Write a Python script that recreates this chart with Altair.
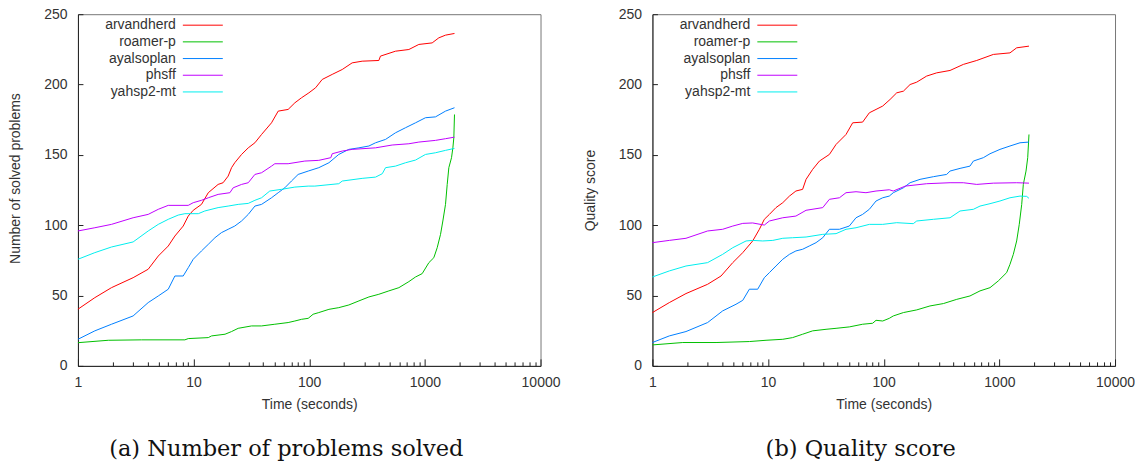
import altair as alt
import pandas as pd

SERIES = ["arvandherd", "roamer-p", "ayalsoplan", "phsff", "yahsp2-mt"]
COLORS = ["#ff0000", "#00c000", "#0080ff", "#c000ff", "#00eeee"]

X_TICKS = [1, 2, 3, 4, 5, 6, 7, 8, 9,
           10, 20, 30, 40, 50, 60, 70, 80, 90,
           100, 200, 300, 400, 500, 600, 700, 800, 900,
           1000, 2000, 3000, 4000, 5000, 6000, 7000, 8000, 9000, 10000]
Y_TICKS = [0, 50, 100, 150, 200, 250]

X_TITLE = "Time (seconds)"
Y_TITLES = ["Number of solved problems", "Quality score"]
CAPTIONS = ["(a) Number of problems solved", "(b) Quality score"]

solved_arvandherd = [(1, 40.3), (1.4, 48.5), (1.95, 55.6), (3.0, 62.7), (4.05, 68.7), (4.95, 78.1), (6.04, 85.2),
                     (6.89, 92.3), (8.13, 99.4), (8.99, 106.5), (9.93, 110.6), (11.7, 114.8), (13.4, 123.1),
                     (16.3, 129.0), (18.0, 130.2), (19.9, 134.9), (21.3, 140.9), (22.7, 144.4), (26.0, 150.3),
                     (29.7, 155.0), (33.9, 158.6), (38.7, 164.5), (47.2, 172.8), (53.9, 181.1), (65.7, 182.3),
                     (75.1, 187.0), (85.8, 190.6), (99.3, 194.1), (113.5, 197.7), (129.5, 203.6), (158, 207.2),
                     (193, 210.7), (235, 215.4), (287, 216.6), (400, 217.1), (413, 220.2), (557, 223.7),
                     (727, 224.9), (887, 228.5), (1156, 229.6), (1320, 233.2), (1508, 235.1), (1803, 236.3)]
solved_roamer_p = [(1, 16.5), (1.83, 18.2), (3.55, 18.5), (8.41, 18.5), (8.99, 19.4), (13.4, 20.1), (14.3, 21.3),
                   (18.7, 22.5), (21.3, 24.4), (24.3, 26.7), (31.7, 28.4), (38.7, 28.4), (50.4, 29.6), (65.7, 30.8),
                   (75.1, 31.9), (85.8, 33.1), (98, 33.8), (108, 36.7), (121, 37.9), (148, 40.2), (180, 41.4),
                   (220, 43.3), (269, 46.2), (328, 49.0), (400, 50.9), (488, 53.3), (596, 55.6), (727, 59.9),
                   (830, 63.2), (948, 65.6), (1083, 73.4), (1195, 76.9), (1278, 84.0), (1366, 93.5), (1430, 103.0),
                   (1508, 114.8), (1560, 129.0), (1611, 140.9), (1700, 148.0), (1746, 155.0), (1780, 162.2),
                   (1803, 178.7)]
solved_ayalsoplan = [(1, 18.9), (1.4, 24.9), (1.95, 29.6), (3.0, 35.5), (4.05, 45.0), (4.95, 49.7), (6.04, 54.5),
                     (6.89, 63.9), (8.13, 63.9), (8.99, 69.8), (9.93, 75.8), (11.7, 81.7), (13.4, 86.4),
                     (15.3, 91.1), (17.4, 94.7), (19.9, 97.1), (22.7, 99.4), (26.0, 103.0), (29.7, 107.7),
                     (33.9, 113.6), (38.7, 114.8), (47.2, 119.5), (53.9, 123.1), (61.5, 126.6), (70.2, 131.4),
                     (80.2, 136.1), (98, 138.5), (121, 140.9), (148, 144.4), (180, 150.3), (220, 153.9),
                     (269, 155.0), (328, 156.3), (374.5, 158.6), (457, 161.0), (557, 165.7), (680, 169.3),
                     (830, 172.8), (1012, 176.4), (1235, 177.0), (1508, 181.1), (1803, 183.5)]
solved_phsff = [(1, 95.9), (1.4, 98.2), (1.95, 100.6), (3.0, 105.3), (4.05, 107.7), (4.95, 111.3), (6.04, 114.1),
                (8.99, 114.1), (9.93, 116.0), (11.7, 117.7), (13.4, 119.5), (16.3, 121.9), (20.6, 123.1),
                (22.0, 126.6), (26.0, 129.0), (29.7, 130.2), (33.9, 136.1), (38.7, 137.3), (47.2, 142.0),
                (50.4, 143.7), (65.7, 143.7), (91.6, 145.6), (121, 146.1), (153.7, 148.0), (158, 150.8),
                (193, 152.7), (235, 153.9), (374.5, 155.0), (521, 157.0), (727, 157.9), (887, 159.1),
                (1235, 160.3), (1508, 161.5), (1803, 162.6)]
solved_yahsp2_mt = [(1, 75.8), (1.4, 80.5), (1.95, 84.5), (3.0, 88.1), (4.05, 95.9), (4.95, 100.6), (6.04, 104.2),
                    (7.36, 107.2), (8.41, 108.2), (10.99, 108.2), (12.5, 110.1), (16.3, 112.5), (19.9, 113.6),
                    (24.3, 114.8), (29.7, 115.5), (33.9, 117.7), (38.7, 119.5), (45.6, 124.3), (57.6, 125.5),
                    (75.1, 127.1), (98, 127.8), (111.7, 127.8), (180, 129.5), (193, 131.4), (287, 133.3),
                    (374.5, 134.2), (428, 136.6), (457, 140.9), (557, 142.0), (680, 144.4), (830, 146.3),
                    (1012, 150.3), (1235, 151.5), (1508, 153.2), (1803, 154.6)]

quality_arvandherd = [(1, 37.9), (1.4, 45.0), (1.95, 51.4), (3.0, 58.0), (3.92, 63.9), (4.95, 73.4), (6.04, 80.5),
                      (7.36, 88.8), (8.41, 97.1), (9.28, 104.2), (10.27, 107.7), (11.7, 112.5), (13.4, 116.0),
                      (15.3, 120.7), (17.4, 124.3), (19.9, 125.5), (21.3, 132.6), (24.3, 139.7), (27.8, 145.6),
                      (33.9, 150.3), (38.7, 157.4), (47.2, 164.5), (53.9, 172.8), (65.7, 173.3), (75.1, 179.9),
                      (85.8, 182.3), (98, 184.7), (113.5, 189.4), (129.5, 194.1), (148, 195.3), (169, 200.0),
                      (193, 201.7), (235, 206.0), (287, 208.3), (374.5, 210.0), (488, 214.3), (637, 217.1),
                      (887, 221.4), (1235, 222.5), (1411, 226.1), (1803, 227.3)]
quality_roamer_p = [(1, 14.9), (1.83, 16.6), (3.55, 16.6), (6.89, 17.3), (9.6, 18.2), (13.4, 18.9), (16.3, 20.1),
                    (19.9, 22.5), (24.3, 24.9), (31.7, 26.0), (38.7, 26.7), (50.4, 27.7), (65.7, 29.6),
                    (80.2, 30.3), (85.8, 32.4), (98, 31.9), (111.7, 33.8), (121, 35.5), (148, 37.9), (193, 39.8),
                    (251, 42.6), (328, 44.3), (428, 47.3), (557, 49.7), (680, 53.3), (830, 55.6), (979, 60.4),
                    (1156, 66.3), (1235, 72.2), (1320, 79.3), (1411, 88.8), (1486, 100.6), (1560, 114.8),
                    (1611, 129.0), (1700, 138.5), (1758, 148.0), (1803, 164.5)]
quality_ayalsoplan = [(1, 16.6), (1.4, 21.3), (1.95, 24.4), (3.0, 30.8), (4.05, 39.1), (5.28, 43.8), (6.04, 46.6),
                      (6.89, 54.5), (8.13, 54.5), (9.28, 62.7), (10.27, 66.3), (11.7, 71.0), (13.4, 75.8),
                      (15.3, 79.3), (17.4, 81.7), (19.9, 82.9), (22.7, 85.2), (26.0, 87.6), (29.7, 91.1),
                      (33.9, 97.1), (41.4, 97.1), (50.4, 99.4), (57.6, 105.3), (65.7, 107.7), (75.1, 111.3),
                      (85.8, 117.2), (98, 119.5), (111.7, 120.7), (121, 123.1), (148, 126.6), (169, 130.2),
                      (206, 132.6), (269, 134.5), (350, 136.1), (374.5, 138.5), (457, 140.4), (557, 142.0),
                      (596, 145.6), (727, 148.0), (830, 150.8), (1012, 153.9), (1235, 156.3), (1508, 158.6),
                      (1803, 159.1)]
quality_phsff = [(1, 87.6), (1.4, 89.2), (1.95, 90.7), (3.0, 95.9), (4.05, 97.1), (4.95, 99.4), (6.04, 101.3),
                 (7.36, 101.6), (9.28, 100.1), (10.27, 103.0), (13.4, 105.3), (17.4, 106.5), (21.3, 110.6),
                 (29.7, 112.5), (33.9, 118.4), (41.4, 119.5), (47.2, 123.1), (57.6, 123.8), (70.2, 123.1),
                 (85.8, 124.3), (111.7, 125.2), (121, 124.3), (153.7, 127.8), (235, 129.5), (374.5, 130.2),
                 (488, 130.2), (637, 129.0), (887, 129.9), (1411, 130.2), (1803, 129.9)]
quality_yahsp2_mt = [(1, 63.2), (1.4, 67.5), (1.95, 71.0), (3.0, 73.4), (4.05, 79.3), (4.95, 84.0), (6.45, 88.8),
                     (7.36, 89.2), (8.99, 88.8), (10.99, 89.2), (13.4, 90.7), (16.3, 91.1), (21.3, 91.6),
                     (29.7, 93.5), (38.7, 94.0), (47.2, 97.1), (57.6, 98.2), (75.1, 100.6), (98, 100.6),
                     (129.5, 101.8), (180, 101.1), (193, 103.0), (269, 104.2), (374.5, 105.3), (457, 110.1),
                     (596, 111.3), (680, 113.6), (830, 115.3), (1012, 117.2), (1235, 119.5), (1508, 120.7),
                     (1722, 120.5), (1803, 119.1)]

PANELS = [
    [solved_arvandherd, solved_roamer_p, solved_ayalsoplan, solved_phsff, solved_yahsp2_mt],
    [quality_arvandherd, quality_roamer_p, quality_ayalsoplan, quality_phsff, quality_yahsp2_mt],
]

FONT = "Liberation Sans"
TXT = "#333333"
MAJOR_TEST = "(datum.value==1||datum.value==10||datum.value==100||datum.value==1000||datum.value==10000)"
X_LABEL_EXPR = MAJOR_TEST + " ? format(datum.value, 'd') : ''"
X_TICK_EXPR = {"expr": MAJOR_TEST + " ? -7 : -4"}


def make_df(series_lists):
    rows = []
    for name, pts in zip(SERIES, series_lists):
        for i, (t, v) in enumerate(pts):
            rows.append({"series": name, "time": t, "value": v, "idx": i})
    return pd.DataFrame(rows)


def panel(series_lists, y_title, caption, y_title_y):
    df = make_df(series_lists)
    xs = alt.Scale(type="log", domain=[1, 10000], nice=False)
    ys = alt.Scale(domain=[0, 250], nice=False, zero=False)
    lines = alt.Chart(df).mark_line(strokeWidth=1, interpolate="linear").encode(
        x=alt.X("time:Q", scale=xs, title=X_TITLE,
                axis=alt.Axis(values=X_TICKS, labelExpr=X_LABEL_EXPR, tickSize=X_TICK_EXPR,
                              labelPadding=17, domainColor="#222222", tickColor="#222222",
                              titlePadding=5, labelFlush=False, labelOverlap=False)),
        y=alt.Y("value:Q", scale=ys, title=y_title,
                axis=alt.Axis(values=Y_TICKS, tickSize={"expr": "-5"}, labelPadding=16,
                              domainColor="#222222", tickColor="#222222", titlePadding=21,
                              titleY=y_title_y)),
        color=alt.Color("series:N", scale=alt.Scale(domain=SERIES, range=COLORS),
                        legend=alt.Legend(orient="none", legendX=118, legendY=4, title="",
                                          symbolType="M-4,0H4", symbolSize=100, symbolStrokeWidth=1,
                                          labelAlign="right", labelOffset={"expr": "-34"}, labelFont=FONT,
                                          labelFontSize=14, labelColor=TXT, rowPadding=2.7, padding=0,
                                          labelLimit=200)),
        order="idx:Q",
    )
    return lines.properties(
        width=463, height=352,
        title=alt.TitleParams(text=caption, orient="bottom", font="DejaVu Serif", fontSize=22.5,
                              fontWeight="normal", color="#111111", offset=26, frame="group",
                              anchor="middle", dx=-23),
    )


left = panel(PANELS[0], Y_TITLES[0], CAPTIONS[0], 164)
right = panel(PANELS[1], Y_TITLES[1], CAPTIONS[1], 176)

chart = alt.hconcat(left, right, spacing=22).resolve_scale(color="independent").resolve_legend(
    color="independent"
).properties(
    padding={"left": 0, "top": -2, "right": 0, "bottom": 0}
).configure_view(stroke="#777777", strokeWidth=1).configure_axis(
    grid=False, labelFont=FONT, labelFontSize=14, labelColor=TXT,
    titleFont=FONT, titleFontSize=14, titleColor=TXT, titleFontWeight="normal"
)

chart.save("out.html", embed_options={"renderer": "svg", "actions": False})
